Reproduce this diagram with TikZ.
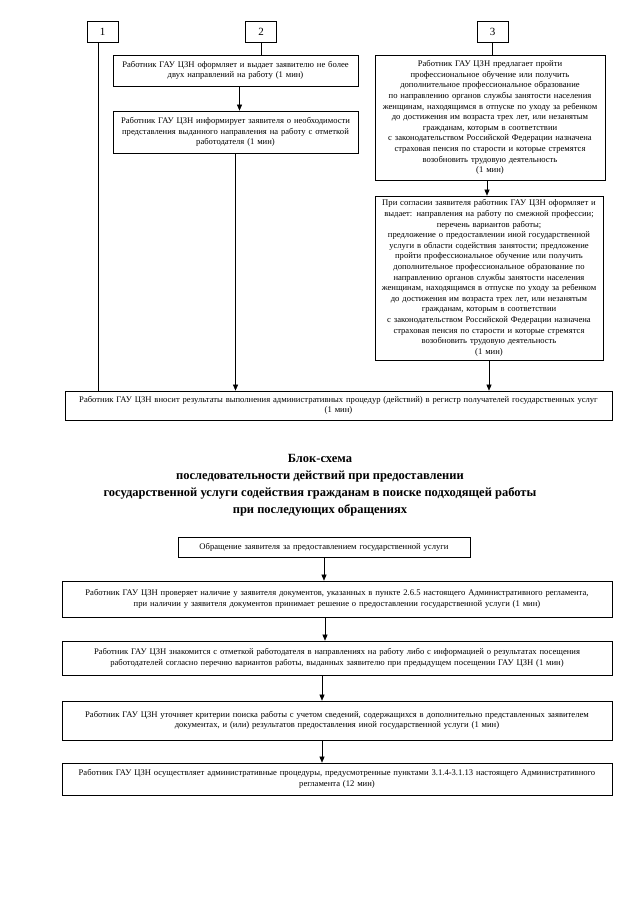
\documentclass[tikz,border=0pt]{standalone}
\usepackage{fontspec}
\setmainfont{Liberation Serif}
\usepackage{tikz}
\usetikzlibrary{arrows.meta, calc}

\begin{document}
\begin{tikzpicture}[x=1pt, y=-1pt,
	blok/.style={draw, line width=0.7pt, align=center, inner sep=1pt,
		font=\fontsize{8.6}{10.6}\selectfont},
	nomer/.style={draw, line width=0.7pt, minimum width=31pt, minimum height=21pt,
		inner sep=0pt, font=\fontsize{11}{12}\selectfont},
	strelka/.style={line width=0.6pt, -{Triangle[length=6pt, width=5pt]}},
	liniya/.style={line width=0.6pt}]
	\useasboundingbox (0,0) rectangle (640,905);
	% номера ветвей
	\node[nomer] (n1) at (102.5,31.5) {1};
	\node[nomer] (n2) at (261,31.5) {2};
	\node[nomer] (n3) at (492.5,31.5) {3};
	% ветвь 2
	\node[blok, minimum width=245pt, minimum height=31pt, text width=242pt] (a) at (235.5,70.5)
		{Работник ГАУ ЦЗН оформляет и выдает заявителю не более\\ двух направлений на работу (1 мин)};
	\node[blok, minimum width=245pt, minimum height=42pt, text width=242pt] (b) at (235.5,132)
		{Работник ГАУ ЦЗН информирует заявителя о необходимости\\ представления выданного направления на работу с отметкой\\ работодателя (1 мин)};
	% ветвь 3
	\node[blok, minimum width=230pt, minimum height=125pt, text width=227pt] (c) at (490,117.5)
		{Работник ГАУ ЦЗН предлагает пройти\\ профессиональное обучение или получить\\ дополнительное профессиональное образование\\ по направлению органов службы занятости населения\\ женщинам, находящимся в отпуске по уходу за ребенком\\ до достижения им возраста трех лет, или незанятым\\ гражданам, которым в соответствии\\ с законодательством Российской Федерации назначена\\ страховая пенсия по старости и которые стремятся\\ возобновить трудовую деятельность\\ (1 мин)};
	\node[blok, minimum width=228pt, minimum height=164pt, text width=225pt] (d) at (489,278)
		{При согласии заявителя работник ГАУ ЦЗН оформляет и\\ выдает: направления на работу по смежной профессии;\\ перечень вариантов работы;\\ предложение о предоставлении иной государственной\\ услуги в области содействия занятости; предложение\\ пройти профессиональное обучение или получить\\ дополнительное профессиональное образование по\\ направлению органов службы занятости населения\\ женщинам, находящимся в отпуске по уходу за ребенком\\ до достижения им возраста трех лет, или незанятым\\ гражданам, которым в соответствии\\ с законодательством Российской Федерации назначена\\ страховая пенсия по старости и которые стремятся\\ возобновить трудовую деятельность\\ (1 мин)};
	% общий блок
	\node[blok, minimum width=547pt, minimum height=29pt, text width=544pt] (g) at (338.5,405.5)
		{Работник ГАУ ЦЗН вносит результаты выполнения административных процедур (действий) в регистр получателей государственных услуг\\ (1 мин)};
	% связи верхней схемы
	\draw[liniya] ([xshift=-4pt]n1.south) -- ([xshift=-4pt]n1.south |- g.north);
	\draw[liniya] (n2.south) -- (n2.south |- a.north);
	\draw[strelka] ([xshift=4pt]a.south) -- ([xshift=4pt]b.north);
	\draw[strelka] (b.south) -- (b.south |- g.north);
	\draw[liniya] (n3.south) -- (n3.south |- c.north);
	\draw[strelka] ([xshift=-3pt]c.south) -- ([xshift=-3pt]c.south |- d.north);
	\draw[strelka] (d.south) -- (d.south |- g.north);
	% заголовок
	\node[align=center, font=\fontsize{12.5}{17}\selectfont\bfseries] (zag) at (320,485)
		{Блок-схема\\ последовательности действий при предоставлении\\ государственной услуги содействия гражданам в поиске подходящей работы\\ при последующих обращениях};
	% нижняя схема
	\node[blok, minimum width=292pt, minimum height=20pt, text width=289pt] (h) at (324,547)
		{Обращение заявителя за предоставлением государственной услуги};
	\node[blok, minimum width=550pt, minimum height=36pt, text width=547pt] (i) at (337,599)
		{Работник ГАУ ЦЗН проверяет наличие у заявителя документов, указанных в пункте 2.6.5 настоящего Административного регламента,\\ при наличии у заявителя документов принимает решение о предоставлении государственной услуги (1 мин)};
	\node[blok, minimum width=550pt, minimum height=34pt, text width=547pt] (j) at (337,658)
		{Работник ГАУ ЦЗН знакомится с отметкой работодателя в направлениях на работу либо с информацией о результатах посещения\\ работодателей согласно перечню вариантов работы, выданных заявителю при предыдущем посещении ГАУ ЦЗН (1 мин)};
	\node[blok, minimum width=550pt, minimum height=39pt, text width=547pt] (k) at (337,720.5)
		{Работник ГАУ ЦЗН уточняет критерии поиска работы с учетом сведений, содержащихся в дополнительно представленных заявителем\\ документах, и (или) результатов предоставления иной государственной услуги (1 мин)};
	\node[blok, minimum width=550pt, minimum height=32pt, text width=547pt] (l) at (337,779)
		{Работник ГАУ ЦЗН осуществляет административные процедуры, предусмотренные пунктами 3.1.4-3.1.13 настоящего Административного\\ регламента (12 мин)};
	\draw[strelka] (h.south) -- (h.south |- i.north);
	\draw[strelka] ($(i.south)+(-12,0)$) -- ($(j.north)+(-12,0)$);
	\draw[strelka] ($(j.south)+(-15,0)$) -- ($(k.north)+(-15,0)$);
	\draw[strelka] ($(k.south)+(-15,0)$) -- ($(l.north)+(-15,0)$);
\end{tikzpicture}
\end{document}
